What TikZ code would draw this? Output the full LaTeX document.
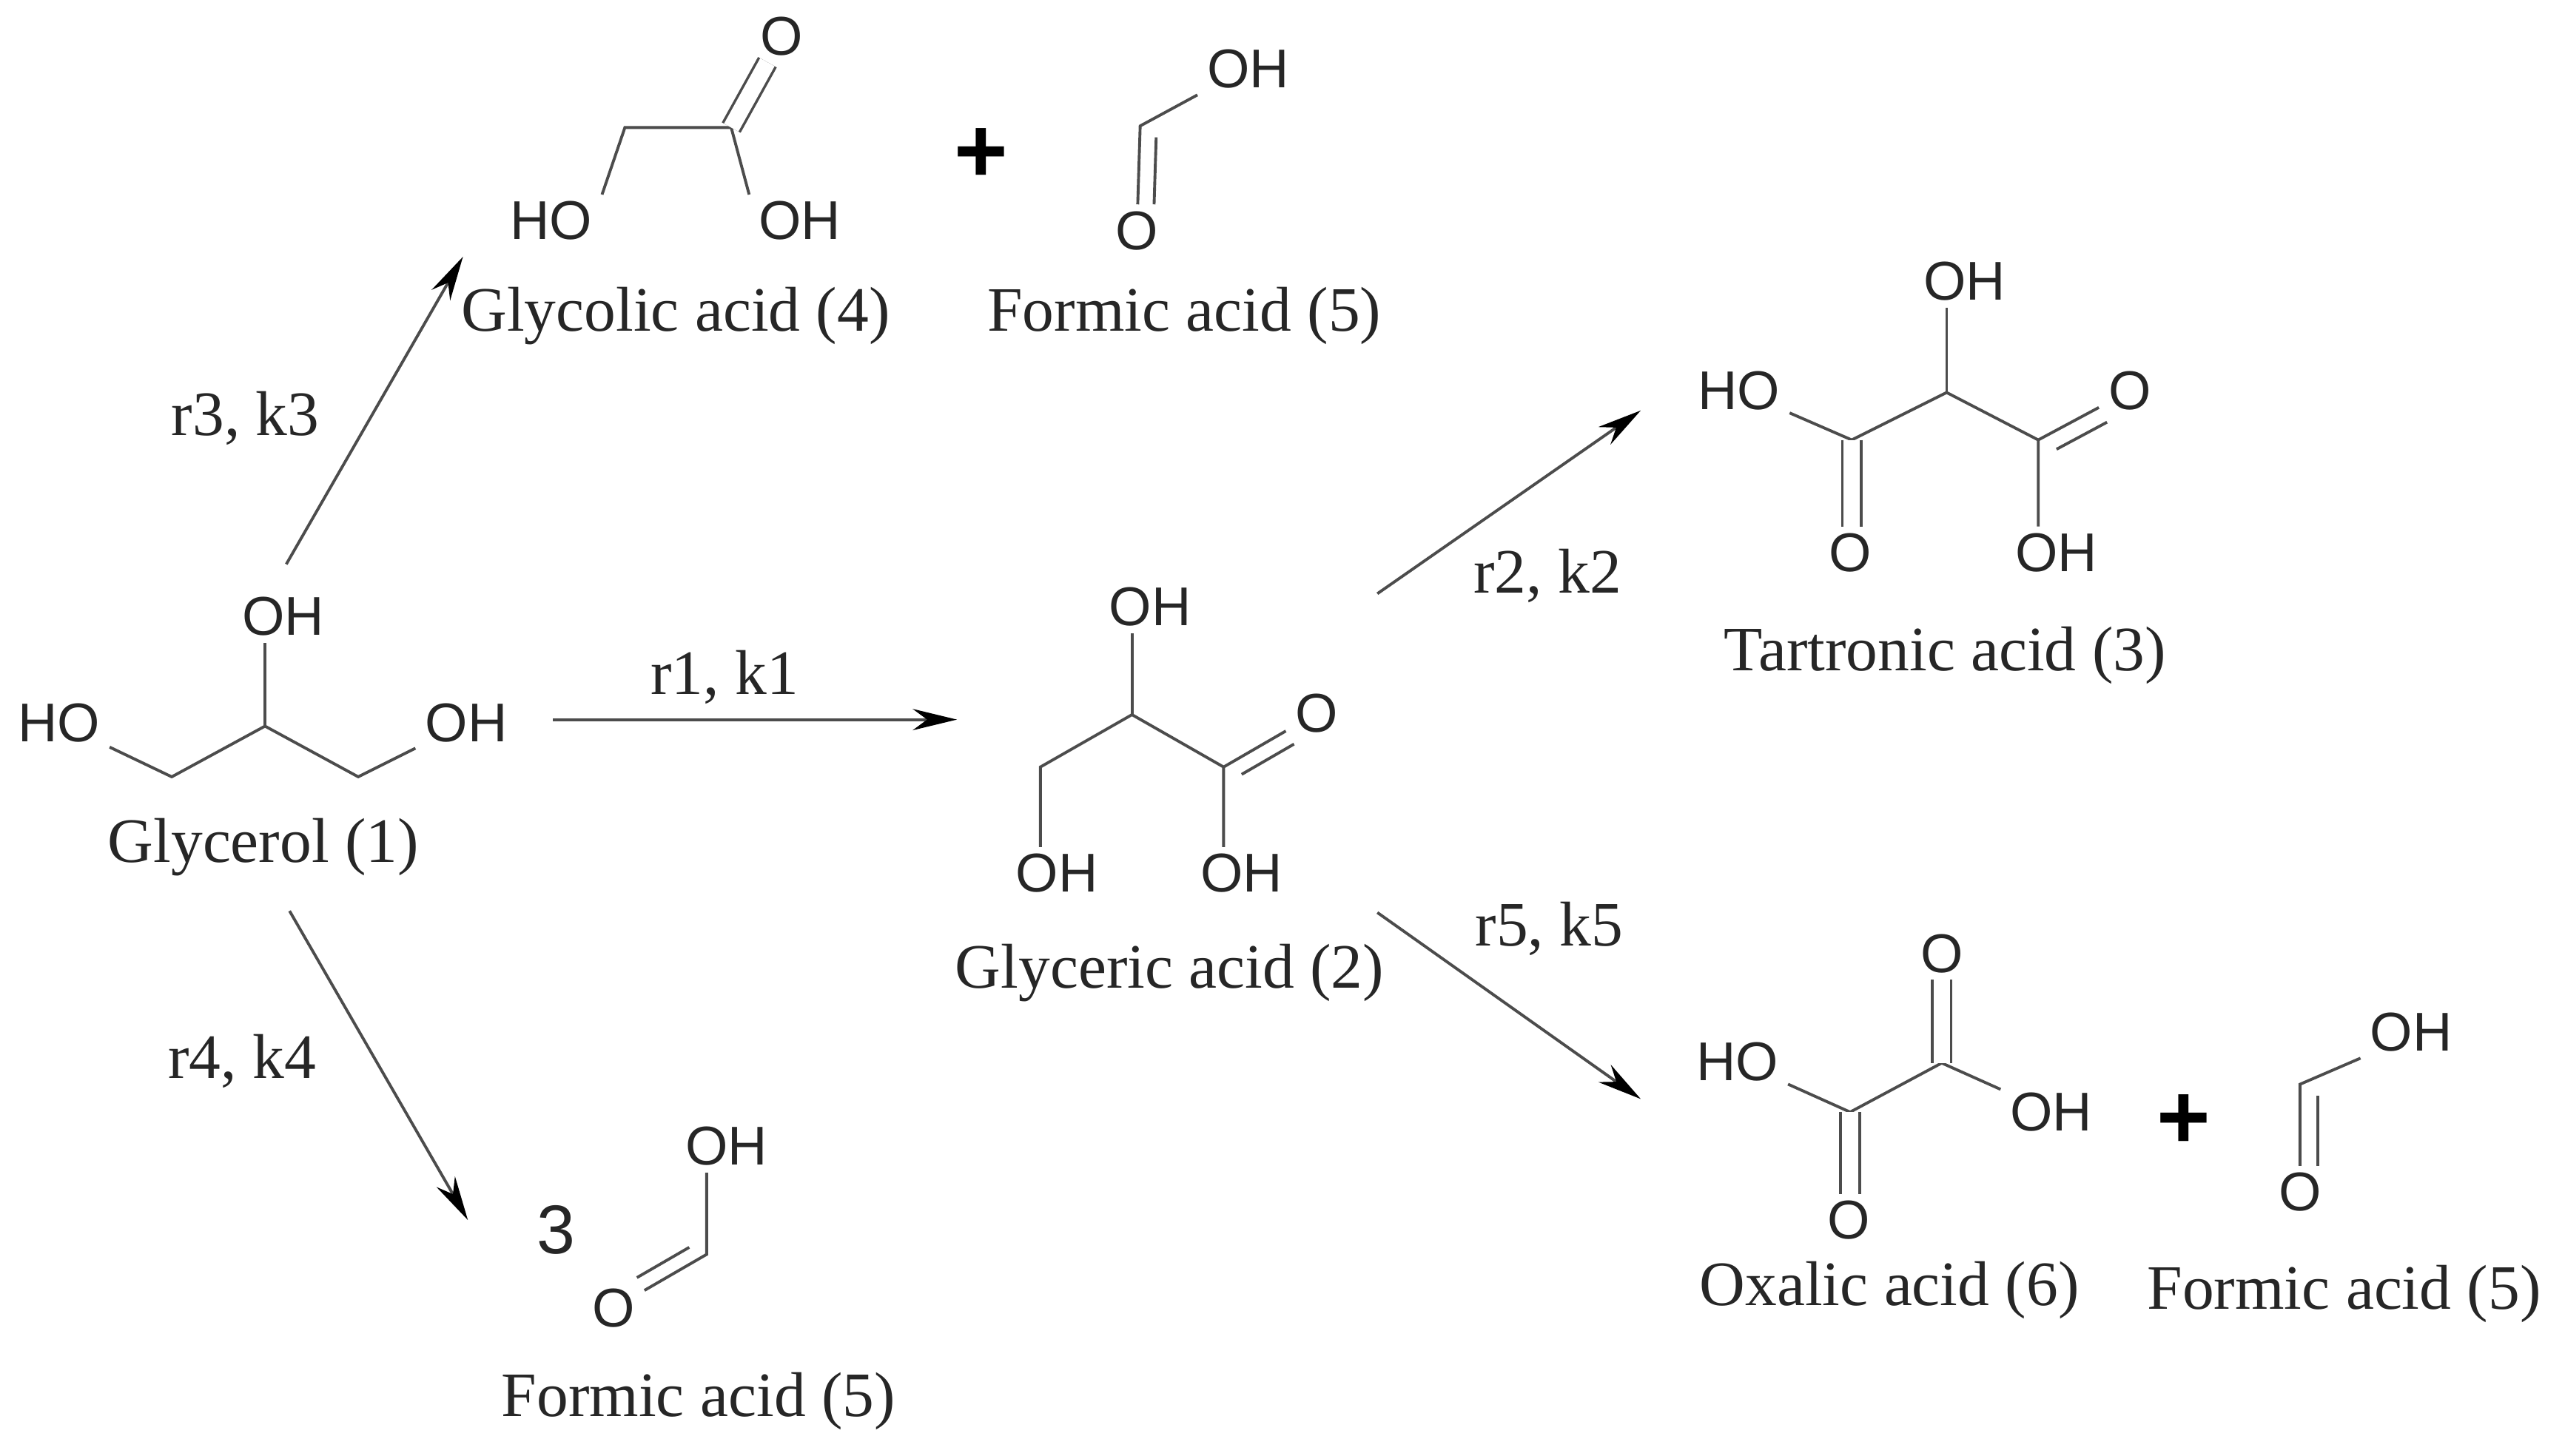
\documentclass[tikz,border=0pt]{standalone}
\usepackage{fontspec}
\setmainfont{Liberation Serif}
\setsansfont{Liberation Sans}
\usetikzlibrary{arrows.meta}
\tikzset{>=stealth}
\tikzset{%
    atom/.style={font=\sffamily\fontsize{9.5}{11}\selectfont,text=black!85,inner xsep=1.5pt,inner ysep=1pt},
    compound/.style={font=\fontsize{11}{13}\selectfont,text=black!85,inner sep=0pt},
    rate/.style={font=\fontsize{11}{13}\selectfont,text=black!85,inner sep=0pt},
    plus/.style={font=\sffamily\bfseries\fontsize{16}{18}\selectfont,inner sep=0pt},
    bond/.style={draw=black!70,line width=0.5pt},
    dbond/.style={draw=black!70,line width=0.45pt,double=white,double distance=0.1cm},
    second/.style={bond,shorten <=0.07cm,transform canvas={shift={#1}}},
    rxn/.style={draw=black!70,line width=0.5pt,-{Stealth[length=0.27cm,width=0.13cm,color=black]}}
}
\begin{document}
\begin{tikzpicture}[x=0.01cm,y=-0.01cm]
\useasboundingbox (0,0) rectangle (1568,890);
% glycerol
\node[atom] (gyHO) at (36,442) {HO};
\node[atom] (gyOHt) at (173,377) {OH};
\node[atom] (gyOH) at (285,442) {OH};
\coordinate (gy1) at (105,475);
\coordinate (gy2) at (162,444);
\coordinate (gy3) at (219,475);
\draw[bond] (gyHO) -- (gy1) -- (gy2) -- (gy3) -- (gyOH);
\draw[bond] (gy2) -- (gy2 |- gyOHt.south);
\node[compound] (gyName) at (161,518) {Glycerol (1)};
% glyceric acid
\node[atom] (geOHt) at (703,371) {OH};
\node[atom] (geO) at (805,436) {O};
\node[atom] (geOHl) at (646,534) {OH};
\node[atom] (geOHr) at (759,534) {OH};
\coordinate (ge1) at (636,469);
\coordinate (ge2) at (692,437);
\coordinate (ge3) at (748,469);
\draw[bond] (ge1 |- geOHl.north) -- (ge1) -- (ge2) -- (ge3) -- (ge3 |- geOHr.north);
\draw[bond] (ge2) -- (ge2 |- geOHt.south);
\draw[bond] (ge3) -- (geO);
\draw[second={(5,8)}] (ge3) -- (geO);
\node[compound] (geName) at (715,595) {Glyceric acid (2)};
% glycolic acid + formic acid
\node[atom] (glO) at (478,22) {O};
\node[atom] (glHO) at (337,135) {HO};
\node[atom] (glOH) at (489,135) {OH};
\coordinate (gl1) at (382,78);
\coordinate (gl2) at (447,78);
\draw[bond] (glHO.north east) -- (gl1) -- (gl2) -- (glOH.north west);
\draw[dbond] (gl2) -- (glO);
\node[compound] (glName) at (413,193) {Glycolic acid (4)};
\node[plus] (plusa) at (600,95) {+};
\node[atom] (faOH) at (763,42) {OH};
\node[atom] (faO) at (695,141) {O};
\coordinate (fa1) at (697,77);
\draw[bond] (faOH.south west) -- (fa1) -- (faO);
\draw[second={(10,0)}] (fa1) -- (faO);
\node[compound] (faName) at (724,193) {Formic acid (5)};
% tartronic acid
\node[atom] (taOHt) at (1201,172) {OH};
\node[atom] (taHO) at (1063,239) {HO};
\node[atom] (taO) at (1302,239) {O};
\node[atom] (taOb) at (1131,338) {O};
\node[atom] (taOH) at (1257,338) {OH};
\coordinate (ta1) at (1132,269);
\coordinate (ta2) at (1190,240);
\coordinate (ta3) at (1246,269);
\draw[bond] (taHO) -- (ta1) -- (ta2) -- (ta3) -- (ta3 |- taOH.north);
\draw[bond] (ta2) -- (ta2 |- taOHt.south);
\draw[bond] (ta3) -- (taO);
\draw[second={(5,9)}] (ta3) -- (taO);
\draw[dbond] (ta1) -- (ta1 |- taOb.north);
\node[compound] (taName) at (1189,401) {Tartronic acid (3)};
% oxalic acid + formic acid
\node[atom] (oxHO) at (1062,649) {HO};
\node[atom] (oxOH) at (1254,680) {OH};
\node[atom] (oxOt) at (1187,583) {O};
\node[atom] (oxOb) at (1130,746) {O};
\coordinate (ox1) at (1131,680);
\coordinate (ox2) at (1187,650);
\draw[bond] (oxHO) -- (ox1) -- (ox2) -- (oxOH);
\draw[dbond] (ox1) -- (ox1 |- oxOb.north);
\draw[dbond] (ox2) -- (ox2 |- oxOt.south);
\node[compound] (oxName) at (1155,789) {Oxalic acid (6)};
\node[plus] (plusb) at (1335,686) {+};
\node[atom] (fbOH) at (1474,631) {OH};
\node[atom] (fbO) at (1406,729) {O};
\coordinate (fb1) at (1406,663);
\draw[bond] (fbOH.south west) -- (fb1) -- (fbO);
\draw[second={(11,0)}] (fb1) -- (fbO);
\node[compound] (fbName) at (1433,791) {Formic acid (5)};
% three formic acid
\node[atom,font=\sffamily\fontsize{12}{14}\selectfont] (fcN) at (340,752) {3};
\node[atom] (fcOH) at (444,701) {OH};
\node[atom] (fcO) at (375,800) {O};
\coordinate (fc1) at (432,767);
\draw[bond] (fc1 |- fcOH.south) -- (fc1) -- (fcO);
\draw[second={(-4.6,-7.8)}] (fc1) -- (fcO);
\node[compound] (fcName) at (427,857) {Formic acid (5)};
% reaction arrows
\coordinate (r1s) at (338,440);
\coordinate (r1e) at (585,440);
\coordinate (r2s) at (842,363);
\coordinate (r2e) at (1003,251);
\coordinate (r3s) at (175,345);
\coordinate (r3e) at (283,157);
\coordinate (r4s) at (177,557);
\coordinate (r4e) at (286,746);
\coordinate (r5s) at (842,558);
\coordinate (r5e) at (1003,672);
\draw[rxn] (r1s) -- (r1e);
\draw[rxn] (r2s) -- (r2e);
\draw[rxn] (r3s) -- (r3e);
\draw[rxn] (r4s) -- (r4e);
\draw[rxn] (r5s) -- (r5e);
\node[rate] (r1) at (443,414) {r1, k1};
\node[rate] (r2) at (946,352) {r2, k2};
\node[rate] (r3) at (150,256) {r3, k3};
\node[rate] (r4) at (148,649) {r4, k4};
\node[rate] (r5) at (947,568) {r5, k5};
\end{tikzpicture}
\end{document}
